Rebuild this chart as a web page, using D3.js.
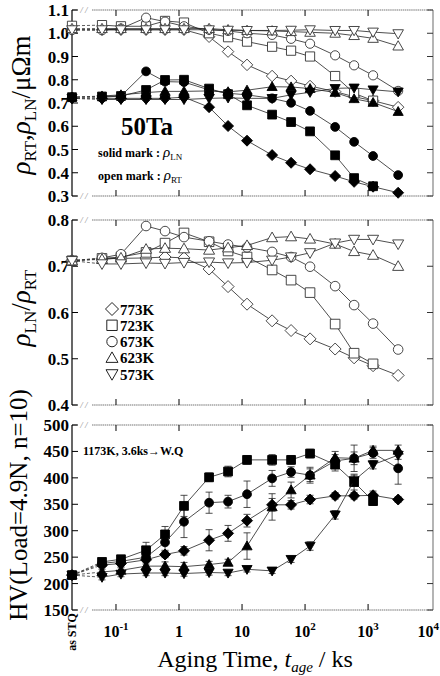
<!DOCTYPE html>
<html>
<head>
<meta charset="utf-8">
<script src="https://cdn.jsdelivr.net/npm/d3@7"></script>
<style>
  body { margin: 0; background: #fff; }
  text { font-family: "Liberation Serif", "Times New Roman", Times, serif; }
</style>
</head>
<body>
<div id="chart"></div>
<script>
// aging times (ks); first point of every series is the "as STQ" state
const times = [0.06, 0.12, 0.3, 0.6, 1.2, 3, 6, 12, 30, 60, 120, 300, 600, 1200, 3000]
const temps = ["773K", "723K", "673K", "623K", "573K"]
const shapes = ["diamond", "square", "circle", "triangle", "invtriangle"]

// top panel, open marks : rho RT (uOhm m), index 0 = as STQ
const rhoRT = [
  [1.015, 1.015, 1.015, 1.015, 1.015, 1.015, 0.985, 0.921, 0.864, 0.816, 0.795, 0.773, 0.749, 0.727, 0.71, 0.682],
  [1.032, 1.035, 1.03, 1.03, 1.053, 1.046, 1.0, 0.983, 0.964, 0.942, 0.925, 0.9, 0.816, 0.742, 0.71],
  [1.014, 1.013, 1.02, 1.067, 1.05, 1.03, 1.015, 1.01, 1.0, 0.993, 0.976, 0.955, 0.905, 0.862, 0.819, 0.752],
  [1.02, 1.02, 1.02, 1.02, 1.02, 1.02, 1.02, 1.015, 1.012, 1.01, 1.007, 1.004, 1.0, 0.99, 0.978, 0.945],
  [1.015, 1.015, 1.015, 1.015, 1.015, 1.015, 1.015, 1.013, 1.012, 1.012, 1.013, 1.015, 1.012, 1.012, 1.005, 0.998]
]
// top panel, solid marks : rho LN
const rhoLN = [
  [0.72, 0.72, 0.72, 0.72, 0.72, 0.725, 0.682, 0.601, 0.538, 0.476, 0.443, 0.415, 0.386, 0.361, 0.34, 0.314],
  [0.725, 0.728, 0.73, 0.756, 0.799, 0.8, 0.762, 0.738, 0.69, 0.65, 0.618, 0.578, 0.475, 0.377, 0.342],
  [0.725, 0.725, 0.73, 0.836, 0.792, 0.79, 0.756, 0.742, 0.735, 0.72, 0.701, 0.666, 0.597, 0.533, 0.472, 0.39],
  [0.725, 0.73, 0.735, 0.745, 0.75, 0.75, 0.752, 0.748, 0.755, 0.77, 0.769, 0.762, 0.745, 0.718, 0.702, 0.663],
  [0.72, 0.715, 0.715, 0.715, 0.715, 0.715, 0.72, 0.722, 0.72, 0.72, 0.735, 0.746, 0.763, 0.765, 0.757, 0.748]
]
// middle panel : rho LN / rho RT
const ratio = [
  [0.712, 0.716, 0.717, 0.718, 0.72, 0.718, 0.694, 0.656, 0.618, 0.582, 0.561, 0.543, 0.521, 0.502, 0.485, 0.464],
  [0.712, 0.717, 0.72, 0.73, 0.75, 0.772, 0.753, 0.733, 0.72, 0.692, 0.67, 0.643, 0.575, 0.512, 0.489],
  [0.712, 0.718, 0.726, 0.787, 0.776, 0.763, 0.754, 0.747, 0.741, 0.731, 0.72, 0.699, 0.657, 0.616, 0.576, 0.52],
  [0.712, 0.715, 0.718, 0.737, 0.739, 0.738, 0.735, 0.74, 0.745, 0.762, 0.764, 0.759, 0.748, 0.732, 0.724, 0.70],
  [0.712, 0.705, 0.705, 0.707, 0.706, 0.708, 0.709, 0.707, 0.708, 0.713, 0.72, 0.729, 0.75, 0.758, 0.758, 0.748]
]
// bottom panel : Vickers hardness and error bar half-lengths
const hv = [
  [216, 235, 238, 245, 255, 262, 282, 295, 319, 349, 349, 359, 366, 366, 367, 359],
  [216, 241, 246, 263, 293, 347, 401, 412, 434, 434, 434, 446, 425, 392, 356],
  [216, 238, 242, 250, 278, 317, 353, 355, 369, 399, 411, 405, 432, 437, 447, 418],
  [216, 222, 225, 233, 233, 232, 236, 240, 271, 345, 377, 405, 438, 437, 452, 452],
  [216, 212, 218, 220, 220, 219, 221, 220, 227, 224, 246, 271, 330, 395, 425, 443]
]
const hvErr = [
  [0, 5, 5, 8, 6, 8, 20, 15, 12, 12, 8, 8, 6, 6, 8, 5],
  [0, 5, 6, 15, 15, 20, 8, 10, 8, 10, 8, 8, 12, 15, 8],
  [0, 5, 6, 8, 15, 30, 20, 12, 25, 15, 10, 12, 12, 25, 10, 30],
  [0, 5, 5, 8, 8, 8, 6, 6, 25, 25, 15, 15, 12, 12, 8, 10],
  [0, 5, 5, 5, 5, 5, 5, 5, 5, 5, 6, 8, 8, 10, 8, 8]
]

const yTicksTop = [0.3, 0.4, 0.5, 0.6, 0.7, 0.8, 0.9, 1.0, 1.1]
const yTicksMid = [0.4, 0.5, 0.6, 0.7, 0.8]
const yTicksHV = [150, 200, 250, 300, 350, 400, 450, 500]
const xTicks = [0.1, 1, 10, 100, 1000, 10000]
const xTickLabels = [["10", "-1"], ["1", ""], ["10", ""], ["10", "2"], ["10", "3"], ["10", "4"]]

const width = 440
const height = 676
const left = 72
const right = 433

const svg = d3.select("#chart").append("svg")
  .attr("width", width)
  .attr("height", height)

// log time axis, the "as STQ" point sits on the left frame
const x = d3.scaleLog()
  .domain([Math.pow(10, -1.698), Math.pow(10, 4.03)])
  .range([left, right])
const xPos = i => i === 0 ? left : x(times[i - 1])

// marker paths around 0,0
function shapePath(type, r) {
  if (type === "circle") return d3.arc()({innerRadius: 0, outerRadius: r, startAngle: 0, endAngle: 2 * Math.PI})
  if (type === "square") return `M${-r},${-r}H${r}V${r}H${-r}Z`
  if (type === "diamond") { const q = r * 1.25; return `M0,${-q}L${q},0L0,${q}L${-q},0Z` }
  const h = r * 1.15
  if (type === "triangle") return `M0,${-h}L${h},${h * 0.75}L${-h},${h * 0.75}Z`
  return `M0,${h}L${h},${-h * 0.75}L${-h},${-h * 0.75}Z`
}

function panel(top, bottom, yDomain, yTicks, fmt) {
  const y = d3.scaleLinear().domain(yDomain).range([bottom, top])
  const g = svg.append("g")

  // frame : grey dotted top/bottom/right, black left, with a break near the left
  const frame = "#777"
  ;[top, bottom].forEach(yy => {
    g.append("line").attr("x1", left).attr("x2", left + 5).attr("y1", yy).attr("y2", yy)
      .attr("stroke", frame).attr("stroke-width", 1)
    g.append("line").attr("x1", left + 20).attr("x2", right).attr("y1", yy).attr("y2", yy)
      .attr("stroke", frame).attr("stroke-width", 1.1).attr("stroke-dasharray", "1.5,0.6")
    g.append("text").attr("x", left + 12).attr("y", yy + 3).attr("text-anchor", "middle")
      .attr("font-size", 9).attr("font-style", "italic").attr("fill", "#888").text("/ /")
  })
  g.append("line").attr("x1", right).attr("x2", right).attr("y1", top).attr("y2", bottom)
    .attr("stroke", frame).attr("stroke-width", 1.1)
  g.append("line").attr("x1", left).attr("x2", left).attr("y1", top).attr("y2", bottom)
    .attr("stroke", "#000").attr("stroke-width", 1.2)

  // y ticks, inward on both sides
  yTicks.forEach(t => {
    const yy = y(t)
    g.append("line").attr("x1", left).attr("x2", left + 6).attr("y1", yy).attr("y2", yy).attr("stroke", "#000")
    g.append("line").attr("x1", right - 6).attr("x2", right).attr("y1", yy).attr("y2", yy).attr("stroke", "#333")
    g.append("text").attr("x", left - 3).attr("y", yy + 6).attr("text-anchor", "end")
      .attr("font-size", 17).attr("font-weight", "bold").text(fmt(t))
  })
  // x ticks, inward top and bottom
  xTicks.slice(0, 5).forEach(t => {
    g.append("line").attr("x1", x(t)).attr("x2", x(t)).attr("y1", top).attr("y2", top + 6).attr("stroke", "#000")
    g.append("line").attr("x1", x(t)).attr("x2", x(t)).attr("y1", bottom - 6).attr("y2", bottom).attr("stroke", "#000")
  })
  return {g, y}
}

function drawSeries(g, y, vals, shape, filled, r) {
  const pts = vals.map((v, i) => [xPos(i), y(v)])
  g.append("path").attr("d", d3.line()(pts.slice(0, 2)))
    .attr("fill", "none").attr("stroke", "#333").attr("stroke-width", 0.8).attr("stroke-dasharray", "3,2")
  g.append("path").attr("d", d3.line()(pts.slice(1)))
    .attr("fill", "none").attr("stroke", "#222").attr("stroke-width", 0.8)
  g.selectAll(null).data(pts).join("path")
    .attr("transform", d => `translate(${d[0]},${d[1]})`)
    .attr("d", shapePath(shape, r))
    .attr("fill", filled ? "#000" : "#fff")
    .attr("stroke", filled ? "#000" : "#333")
    .attr("stroke-width", 0.9)
}

// ---------- top panel ----------
const p1 = panel(10, 196, [0.3, 1.1], yTicksTop, d3.format(".1f"))
temps.forEach((t, k) => drawSeries(p1.g, p1.y, rhoRT[k], shapes[k], false, 4.6))
temps.forEach((t, k) => drawSeries(p1.g, p1.y, rhoLN[k], shapes[k], true, 4.4))

p1.g.append("text").attr("x", 147).attr("y", 135).attr("text-anchor", "middle")
  .attr("font-size", 25).attr("font-weight", "bold").text("50Ta")
const note1 = p1.g.append("text").attr("x", 98).attr("y", 157).attr("font-size", 12).attr("font-weight", "bold")
note1.append("tspan").text("solid mark : ")
note1.append("tspan").attr("font-style", "italic").attr("font-weight", "normal").attr("font-size", 15).text("ρ")
note1.append("tspan").attr("font-weight", "normal").attr("font-size", 9).attr("dy", 3).text("LN")
const note2 = p1.g.append("text").attr("x", 98).attr("y", 180).attr("font-size", 12).attr("font-weight", "bold")
note2.append("tspan").text("open mark : ")
note2.append("tspan").attr("font-style", "italic").attr("font-weight", "normal").attr("font-size", 15).text("ρ")
note2.append("tspan").attr("font-weight", "normal").attr("font-size", 9).attr("dy", 3).text("RT")

// ---------- middle panel ----------
const p2 = panel(220, 405, [0.4, 0.8], yTicksMid, d3.format(".1f"))
temps.forEach((t, k) => drawSeries(p2.g, p2.y, ratio[k], shapes[k], false, 4.8))

temps.forEach((t, k) => {
  const yy = 309 + k * 16.3
  p2.g.append("path").attr("transform", `translate(112,${yy})`).attr("d", shapePath(shapes[k], 5.2))
    .attr("fill", "#fff").attr("stroke", "#222").attr("stroke-width", 1)
  p2.g.append("text").attr("x", 120).attr("y", yy + 5.5).attr("font-size", 15).attr("font-weight", "bold").text(t)
})

// ---------- bottom panel ----------
const p3 = panel(425, 610, [150, 500], yTicksHV, d3.format("d"))
temps.forEach((t, k) => {
  hv[k].forEach((v, i) => {
    const e = hvErr[k][i]
    if (!e) return
    const xx = xPos(i)
    p3.g.append("path")
      .attr("d", `M${xx},${p3.y(v - e)}V${p3.y(v + e)}M${xx - 3.5},${p3.y(v + e)}H${xx + 3.5}M${xx - 3.5},${p3.y(v - e)}H${xx + 3.5}`)
      .attr("stroke", "#222").attr("stroke-width", 0.8).attr("fill", "none")
  })
})
temps.forEach((t, k) => drawSeries(p3.g, p3.y, hv[k], shapes[k], true, 4.4))

p3.g.append("text").attr("x", 83).attr("y", 455).attr("font-size", 12).attr("font-weight", "bold")
  .text("1173K, 3.6ks→W.Q")

// x tick labels (the last one is kept inside the page)
xTicks.forEach((t, i) => {
  const last = i === xTicks.length - 1
  const lab = svg.append("text").attr("x", last ? 439 : x(t)).attr("y", 637)
    .attr("text-anchor", last ? "end" : "middle")
    .attr("font-size", 16).attr("font-weight", "bold")
  lab.append("tspan").text(xTickLabels[i][0])
  if (xTickLabels[i][1]) lab.append("tspan").attr("font-size", 11).attr("dy", -7).text(xTickLabels[i][1])
})
svg.append("text").attr("transform", "translate(76,632) rotate(-90)").attr("text-anchor", "middle")
  .attr("font-size", 12).attr("font-weight", "bold").text("as STQ")

// x title
const xt = svg.append("text").attr("x", 255).attr("y", 667).attr("text-anchor", "middle").attr("font-size", 24)
xt.append("tspan").text("Aging Time,  ")
xt.append("tspan").attr("font-style", "italic").text("t")
xt.append("tspan").attr("font-size", 15).attr("dy", 5).attr("font-style", "italic").text("age")
xt.append("tspan").attr("dy", -5).text(" / ks")

// y titles
const yt1 = svg.append("text").attr("transform", "translate(30,105) rotate(-90)").attr("text-anchor", "middle").attr("font-size", 27)
yt1.append("tspan").attr("font-style", "italic").text("ρ")
yt1.append("tspan").attr("font-size", 17).attr("dy", 6).text("RT")
yt1.append("tspan").attr("dy", -6).text(",")
yt1.append("tspan").attr("font-style", "italic").text("ρ")
yt1.append("tspan").attr("font-size", 17).attr("dy", 6).text("LN")
yt1.append("tspan").attr("dy", -6).text("/μΩm")

const yt2 = svg.append("text").attr("transform", "translate(30,308) rotate(-90)").attr("text-anchor", "middle").attr("font-size", 27)
yt2.append("tspan").attr("font-style", "italic").text("ρ")
yt2.append("tspan").attr("font-size", 17).attr("dy", 6).text("LN")
yt2.append("tspan").attr("dy", -6).text("/")
yt2.append("tspan").attr("font-style", "italic").text("ρ")
yt2.append("tspan").attr("font-size", 17).attr("dy", 6).text("RT")

svg.append("text").attr("transform", "translate(27,505) rotate(-90)").attr("text-anchor", "middle")
  .attr("font-size", 25).text("HV(Load=4.9N, n=10)")
</script>
</body>
</html>
